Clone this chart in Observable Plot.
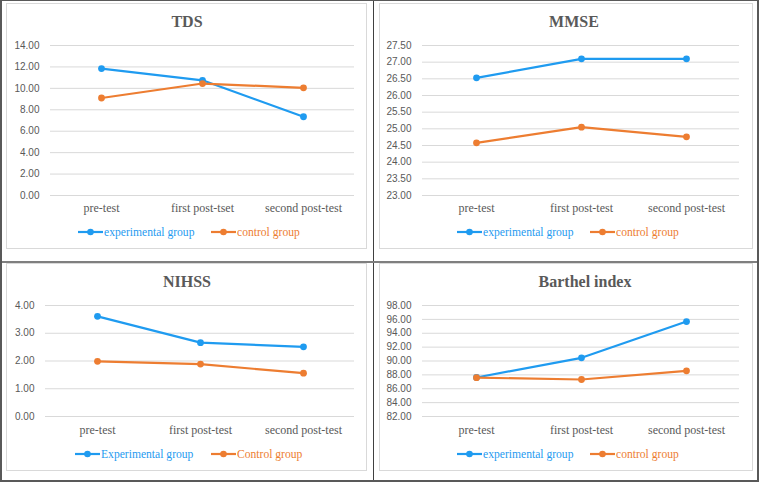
<!DOCTYPE html>
<html>
<head>
<meta charset="utf-8">
<script src="https://cdn.jsdelivr.net/npm/d3@7"></script>
<script src="https://cdn.jsdelivr.net/npm/@observablehq/plot@0.6"></script>
<style>
  html, body { margin: 0; padding: 0; background: #fff; }
  #root { position: relative; width: 759px; height: 482px; box-sizing: border-box;
          border-left: 2px solid #595959; border-right: 2px solid #595959;
          border-top: 1px solid #595959; border-bottom: 2px solid #595959; overflow: hidden; }
  .abs { position: absolute; }
  .panelbox { position: absolute; border: 1px solid #d9d9d9; box-sizing: border-box; }
  .title { position: absolute; font-family: "Liberation Serif", "Times New Roman", serif; font-weight: bold;
           font-size: 16px; line-height: 16px; color: #595959; text-align: center; width: 200px; white-space: nowrap; }
  .legitem { position: absolute; display: flex; align-items: center; height: 14px;
             font-family: "Liberation Serif", "Times New Roman", serif; font-size: 11.6px; white-space: nowrap; }
</style>
</head>
<body>
<div id="root"></div>
<script>
// ---------- data ----------
const categoriesTDS = ["pre-test", "first post-tset", "second post-test"];
const categories = ["pre-test", "first post-test", "second post-test"];
const groupsLower = ["experimental group", "control group"];
const groupsUpper = ["Experimental group", "Control group"];

const tdsExp = [11.85, 10.75, 7.35];
const tdsCtrl = [9.10, 10.45, 10.05];
const tdsTicks = [0, 2, 4, 6, 8, 10, 12, 14];

const mmseExp = [26.53, 27.10, 27.10];
const mmseCtrl = [24.58, 25.05, 24.76];
const mmseTicks = [23, 23.5, 24, 24.5, 25, 25.5, 26, 26.5, 27, 27.5];

const nihssExp = [3.61, 2.66, 2.51];
const nihssCtrl = [1.99, 1.89, 1.56];
const nihssTicks = [0, 1, 2, 3, 4];

const barthelExp = [87.62, 90.46, 95.69];
const barthelCtrl = [87.60, 87.33, 88.58];
const barthelTicks = [82, 84, 86, 88, 90, 92, 94, 96, 98];

const titles = ["TDS", "MMSE", "NIHSS", "Barthel index"];

// ---------- styling ----------
const BLUE = "#1f9bf0";
const ORANGE = "#ed7d31";
const GRID = "#d9d9d9";
const TEXT = "#595959";

const root = document.getElementById("root");
const OX = 2, OY = 1;

function place(el, x, y) {
  el.style.left = (x - OX) + "px";
  el.style.top = (y - OY) + "px";
  root.appendChild(el);
}

function drawPanel(cfg) {
  const { cats, groups, exp, ctrl, ticks, svgX, svgY, width, height, ml, mr, mt, mb, padX } = cfg;
  const rows = [];
  cats.forEach((c, i) => rows.push({ cat: c, value: exp[i], group: groups[0] }));
  cats.forEach((c, i) => rows.push({ cat: c, value: ctrl[i], group: groups[1] }));
  const expRows = rows.filter(d => d.group === groups[0]);
  const ctrlRows = rows.filter(d => d.group === groups[1]);
  const chart = Plot.plot({
    width, height,
    marginLeft: ml, marginRight: mr, marginTop: mt, marginBottom: mb,
    style: { background: "transparent", overflow: "visible" },
    x: { type: "point", domain: cats, padding: 0.5, label: null },
    y: { domain: [ticks[0], ticks[ticks.length - 1]], label: null },
    color: { domain: groups, range: [BLUE, ORANGE] },
    marks: [
      Plot.ruleY(ticks, { stroke: GRID, strokeWidth: 1 }),
      Plot.axisY({ ticks, tickSize: 0, tickPadding: 11, tickFormat: d => d.toFixed(2),
                   fontFamily: "Liberation Sans, Arial, sans-serif", fontSize: 10, fill: TEXT, label: null }),
      Plot.axisX({ tickSize: 0, tickPadding: padX, fontFamily: "Liberation Serif, Times New Roman, serif",
                   fontSize: 12, fill: TEXT, label: null }),
      Plot.line(expRows, { x: "cat", y: "value", stroke: "group", strokeWidth: 2.2 }),
      Plot.dot(expRows, { x: "cat", y: "value", fill: "group", r: 3.4 }),
      Plot.line(ctrlRows, { x: "cat", y: "value", stroke: "group", strokeWidth: 2.2 }),
      Plot.dot(ctrlRows, { x: "cat", y: "value", fill: "group", r: 3.4 })
    ]
  });
  chart.classList.add("abs");
  place(chart, svgX, svgY);
}

function drawBox(x0, y0, x1, y1) {
  const d = document.createElement("div");
  d.className = "panelbox";
  d.style.width = (x1 - x0 + 1) + "px";
  d.style.height = (y1 - y0 + 1) + "px";
  place(d, x0, y0);
}

function drawTitle(text, cx, top) {
  const d = document.createElement("div");
  d.className = "title";
  d.textContent = text;
  place(d, cx - 100, top);
}

function legendItem(label, color, x, cy) {
  const d = document.createElement("div");
  d.className = "legitem";
  d.style.color = color;
  d.innerHTML = `<svg width="25" height="8" style="margin-right:1px"><line x1="0" y1="4" x2="25" y2="4" stroke="${color}" stroke-width="2.2"/><circle cx="12.5" cy="4" r="3.3" fill="${color}"/></svg><span>${label}</span>`;
  place(d, x, cy - 7);
}

// panel boxes
drawBox(6, 3, 366, 248);
drawBox(379, 3, 752, 248);
drawBox(6, 263, 366, 470);
drawBox(379, 263, 752, 470);

// dividers
const vdiv = document.createElement("div");
vdiv.style.cssText = "position:absolute;width:1px;height:482px;background:#404040;";
place(vdiv, 373, 0);
const hdiv = document.createElement("div");
hdiv.style.cssText = "position:absolute;width:759px;height:2px;background:#7f7f7f;";
place(hdiv, 0, 261);

// titles
drawTitle(titles[0], 187, 14);
drawTitle(titles[1], 574, 14);
drawTitle(titles[2], 187, 274);
drawTitle(titles[3], 585, 274);

// charts
drawPanel({ cats: categoriesTDS, groups: groupsLower, exp: tdsExp, ctrl: tdsCtrl, ticks: tdsTicks,
            svgX: 6, svgY: 30, width: 360, height: 190, ml: 44, mr: 12, mt: 15, mb: 25, padX: 8 });
drawPanel({ cats: categories, groups: groupsLower, exp: mmseExp, ctrl: mmseCtrl, ticks: mmseTicks,
            svgX: 379, svgY: 30, width: 373, height: 190, ml: 43, mr: 13, mt: 15, mb: 25, padX: 8 });
drawPanel({ cats: categories, groups: groupsUpper, exp: nihssExp, ctrl: nihssCtrl, ticks: nihssTicks,
            svgX: 6, svgY: 290, width: 360, height: 150, ml: 39, mr: 12, mt: 15, mb: 24, padX: 9 });
drawPanel({ cats: categories, groups: groupsLower, exp: barthelExp, ctrl: barthelCtrl, ticks: barthelTicks,
            svgX: 379, svgY: 290, width: 373, height: 150, ml: 43, mr: 13, mt: 15, mb: 24, padX: 9 });

// legends
legendItem(groupsLower[0], BLUE, 78, 232);
legendItem(groupsLower[1], ORANGE, 211, 232);
legendItem(groupsLower[0], BLUE, 457, 232);
legendItem(groupsLower[1], ORANGE, 590, 232);
legendItem(groupsUpper[0], BLUE, 75, 454);
legendItem(groupsUpper[1], ORANGE, 211, 454);
legendItem(groupsLower[0], BLUE, 457, 454);
legendItem(groupsLower[1], ORANGE, 590, 454);
</script>
</body>
</html>
